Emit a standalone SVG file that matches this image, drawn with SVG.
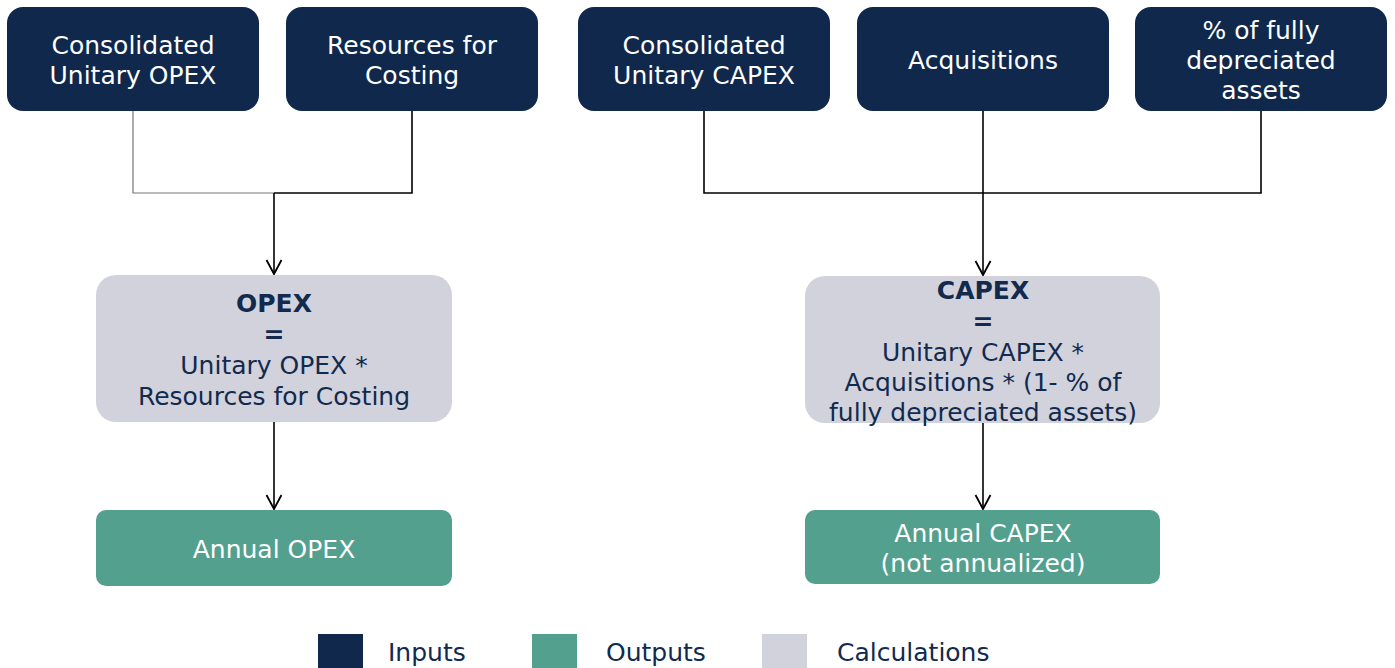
<svg xmlns="http://www.w3.org/2000/svg" width="1395" height="668" viewBox="0 0 1395 668">
<style>
.inp{fill:#0F284C}
.calc{fill:#D1D2DC}
.out{fill:#53A08E}
text{font-family:"DejaVu Sans","Verdana",sans-serif;font-size:25px;text-anchor:middle}
.wt{fill:#FFFFFF}
.nt{fill:#112A4E}
.b{font-weight:bold}
.lg{text-anchor:start}
.ln{fill:none;stroke:#000;stroke-width:1.6}
</style>
<defs>
<marker id="arr" markerWidth="20" markerHeight="20" refX="16" refY="10" orient="auto" markerUnits="userSpaceOnUse">
<path d="M2,2.5 L16,10 L2,17.5" fill="none" stroke="#000" stroke-width="1.8"/>
</marker>
</defs>
<rect width="1395" height="668" fill="#FFFFFF"/>
<g id="connectors">
<path class="ln" d="M133,111 V193 H274" style="stroke:#777;stroke-width:1.2"/>
<path class="ln" d="M412,111 V193 H274"/>
<path class="ln" d="M274,193 V274" marker-end="url(#arr)"/>
<path class="ln" d="M704,111 V193 H1261 V111"/>
<path class="ln" d="M983,111 V275" marker-end="url(#arr)"/>
<path class="ln" d="M274,422 V509" marker-end="url(#arr)"/>
<path class="ln" d="M983,423 V509" marker-end="url(#arr)"/>
</g>
<g id="n-unitary-opex">
<rect class="inp" x="7" y="7" width="252" height="104" rx="16"/>
<text class="wt" x="133" y="54">Consolidated</text>
<text class="wt" x="133" y="84">Unitary OPEX</text>
</g>
<g id="n-resources">
<rect class="inp" x="286" y="7" width="252" height="104" rx="16"/>
<text class="wt" x="412" y="54">Resources for</text>
<text class="wt" x="412" y="84">Costing</text>
</g>
<g id="n-unitary-capex">
<rect class="inp" x="578" y="7" width="252" height="104" rx="16"/>
<text class="wt" x="704" y="54">Consolidated</text>
<text class="wt" x="704" y="84">Unitary CAPEX</text>
</g>
<g id="n-acquisitions">
<rect class="inp" x="857" y="7" width="252" height="104" rx="16"/>
<text class="wt" x="983" y="69">Acquisitions</text>
</g>
<g id="n-depreciated">
<rect class="inp" x="1135" y="7" width="252" height="104" rx="16"/>
<text class="wt" x="1261" y="39">% of fully</text>
<text class="wt" x="1261" y="69">depreciated</text>
<text class="wt" x="1261" y="99">assets</text>
</g>
<g id="n-opex-calc">
<rect class="calc" x="96" y="275" width="356" height="147" rx="20"/>
<text class="nt b" x="274" y="312">OPEX</text>
<text class="nt b" x="274" y="343">=</text>
<text class="nt" x="274" y="374">Unitary OPEX *</text>
<text class="nt" x="274" y="405">Resources for Costing</text>
</g>
<g id="n-capex-calc">
<rect class="calc" x="805" y="276" width="355" height="147" rx="20"/>
<text class="nt b" x="983" y="299">CAPEX</text>
<text class="nt b" x="983" y="330">=</text>
<text class="nt" x="983" y="361">Unitary CAPEX *</text>
<text class="nt" x="983" y="391">Acquisitions * (1- % of</text>
<text class="nt" x="983" y="421">fully depreciated assets)</text>
</g>
<g id="n-annual-opex">
<rect class="out" x="96" y="510" width="356" height="76" rx="10"/>
<text class="wt" x="274" y="558">Annual OPEX</text>
</g>
<g id="n-annual-capex">
<rect class="out" x="805" y="510" width="355" height="74" rx="10"/>
<text class="wt" x="983" y="542">Annual CAPEX</text>
<text class="wt" x="983" y="572">(not annualized)</text>
</g>
<g id="legend">
<rect class="inp" x="318" y="634" width="45" height="34"/>
<text class="nt lg" x="388" y="661">Inputs</text>
<rect class="out" x="532" y="634" width="45" height="34"/>
<text class="nt lg" x="606" y="661">Outputs</text>
<rect class="calc" x="762" y="634" width="45" height="34"/>
<text class="nt lg" x="837" y="661">Calculations</text>
</g>
</svg>
